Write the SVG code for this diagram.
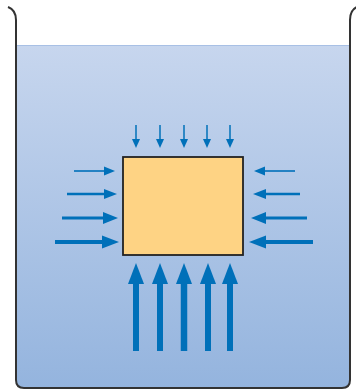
<svg xmlns="http://www.w3.org/2000/svg" width="356" height="392" viewBox="0 0 356 392">
  <defs>
    <linearGradient id="water" x1="0" y1="0" x2="0" y2="1">
      <stop offset="0" stop-color="#c7d6ee"/>
      <stop offset="1" stop-color="#94b4de"/>
    </linearGradient>
    <style>
      .arrow line { stroke: #0070b9; }
      .arrow polygon { fill: #0070b9; }
      .wall { fill: none; stroke: #333; stroke-width: 2; }
    </style>
  </defs>
  <rect width="356" height="392" fill="#fff"/>
  <g id="water-body">
    <path d="M16,45 L350,45 L350,380 Q350,388 342,388 L24,388 Q16,388 16,380 Z" fill="url(#water)"/>
    <line x1="16" y1="45.5" x2="350" y2="45.5" stroke="#a8c0e5" stroke-width="1"/>
  </g>
  <g id="container">
    <path class="wall" d="M8,7 Q16,10 16,20 L16,380 Q16,388 24,388 L342,388 Q350,388 350,380 L350,20 Q350,10 357,7"/>
  </g>
  <g id="block">
    <rect x="123" y="157" width="120" height="98" fill="#fed384" stroke="#222" stroke-width="1.8"/>
  </g>
  <g id="connectors" class="arrow">
    <!-- top arrows -->
    <line x1="136" y1="125" x2="136" y2="140" stroke-width="1.5"/><polygon points="132,139 140,139 136,148"/>
    <line x1="160" y1="125" x2="160" y2="140" stroke-width="1.5"/><polygon points="156,139 164,139 160,148"/>
    <line x1="184" y1="125" x2="184" y2="140" stroke-width="1.5"/><polygon points="180,139 188,139 184,148"/>
    <line x1="207" y1="125" x2="207" y2="140" stroke-width="1.5"/><polygon points="203,139 211,139 207,148"/>
    <line x1="230" y1="125" x2="230" y2="140" stroke-width="1.5"/><polygon points="226,139 234,139 230,148"/>
    <!-- left arrows -->
    <line x1="74" y1="171" x2="105" y2="171" stroke-width="1.6"/><polygon points="104,166.5 104,175.5 115,171"/>
    <line x1="67" y1="194" x2="105" y2="194" stroke-width="2.4"/><polygon points="104,189 104,199 117,194"/>
    <line x1="62" y1="218" x2="104" y2="218" stroke-width="3.2"/><polygon points="103,212 103,224 118,218"/>
    <line x1="55" y1="242" x2="103" y2="242" stroke-width="4"/><polygon points="102,235.5 102,248.5 119,242"/>
    <!-- right arrows -->
    <line x1="295" y1="171" x2="264" y2="171" stroke-width="1.6"/><polygon points="265,166.5 265,175.5 254,171"/>
    <line x1="300" y1="194" x2="265" y2="194" stroke-width="2.4"/><polygon points="266,189 266,199 253,194"/>
    <line x1="307" y1="218" x2="265" y2="218" stroke-width="3.2"/><polygon points="266,212 266,224 251,218"/>
    <line x1="313" y1="242" x2="265" y2="242" stroke-width="4"/><polygon points="266,235.5 266,248.5 249,242"/>
    <!-- bottom arrows -->
    <line x1="136" y1="351" x2="136" y2="283" stroke-width="6"/><polygon points="128,284 144,284 136,263"/>
    <line x1="160" y1="351" x2="160" y2="283" stroke-width="6"/><polygon points="152,284 168,284 160,263"/>
    <line x1="184" y1="351" x2="184" y2="283" stroke-width="6.5"/><polygon points="176,284 192,284 184,263"/>
    <line x1="208" y1="351" x2="208" y2="283" stroke-width="6"/><polygon points="200,284 216,284 208,263"/>
    <line x1="230" y1="351" x2="230" y2="283" stroke-width="6"/><polygon points="222,284 238,284 230,263"/>
  </g>
</svg>
